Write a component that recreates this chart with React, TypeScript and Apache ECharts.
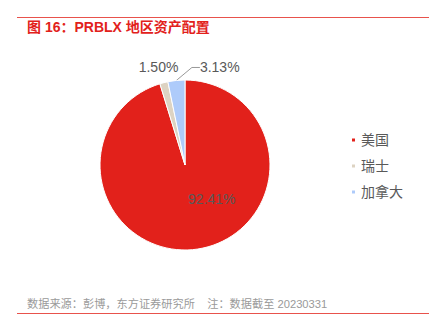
import React, { useEffect, useRef } from "react";
import * as echarts from "echarts";

const titleText = "图 16：PRBLX 地区资产配置";
const sourceText = "数据来源：彭博，东方证券研究所    注：数据截至 20230331";
const categories = ["美国", "瑞士", "加拿大"];
const values = [92.41, 1.5, 3.13];
const colors = ["#E2211B", "#DDD3C2", "#AECBFA"];
// label offsets (px) from ECharts' default label positions
const labelShifts = [
  [20, -11],
  [55, -21],
  [77, -5],
];

const FONT = "'Liberation Sans', 'Noto Sans CJK SC', sans-serif";

export default function App() {
  const ref = useRef<HTMLDivElement>(null);
  useEffect(() => {
    if (!ref.current) return;
    const chart = echarts.init(ref.current, null, { renderer: "svg" });
    chart.setOption({
      animation: false,
      backgroundColor: "#ffffff",
      graphic: [
        { type: "line", shape: { x1: 17, y1: 17.5, x2: 429, y2: 17.5 }, style: { stroke: "#E8524C", lineWidth: 1 } },
        { type: "line", shape: { x1: 17, y1: 313.5, x2: 429, y2: 313.5 }, style: { stroke: "#E8524C", lineWidth: 1 } },
        {
          type: "text",
          left: 27,
          top: 20,
          style: { text: titleText, fill: "#E2211B", font: `bold 14px ${FONT}` },
        },
        {
          type: "text",
          left: 27,
          top: 298,
          style: { text: sourceText, fill: "#9A9A9A", font: `11.2px ${FONT}` },
        },
      ],
      legend: {
        orient: "vertical",
        left: 345,
        top: 128,
        icon: "rect",
        itemWidth: 5,
        itemHeight: 5,
        itemGap: 12,
        data: categories,
        textStyle: { color: "#595959", fontSize: 14, fontFamily: FONT },
      },
      series: [
        {
          type: "pie",
          center: [185, 165],
          radius: [0, 85],
          startAngle: 90,
          clockwise: true,
          itemStyle: { borderColor: "#ffffff", borderWidth: 1 },
          label: {
            show: true,
            formatter: (p: any) => p.value.toFixed(2) + "%",
            color: "#595959",
            fontSize: 14,
            fontFamily: FONT,
          },
          labelLine: { show: true, length: 8, length2: 8, lineStyle: { color: "#999999", width: 1 } },
          labelLayout: (p: any) => {
            const [dx, dy] = labelShifts[p.dataIndex];
            if (p.dataIndex === 2) {
              return {
                x: p.labelRect.x + dx,
                y: p.labelRect.y + dy,
                align: "left",
                verticalAlign: "top",
              };
            }
            return { dx, dy };
          },
          data: categories.map((name, i) => ({
            name,
            value: values[i],
            itemStyle: { color: colors[i] },
            label: i === 0 ? { position: "inside" } : { position: "outside" },
            labelLine: i === 1 ? { show: false } : undefined,
          })),
        },
      ],
    });
    return () => chart.dispose();
  }, []);
  return <div ref={ref} style={{ position: "absolute", left: 0, top: 0, width: 429, height: 328 }} />;
}
